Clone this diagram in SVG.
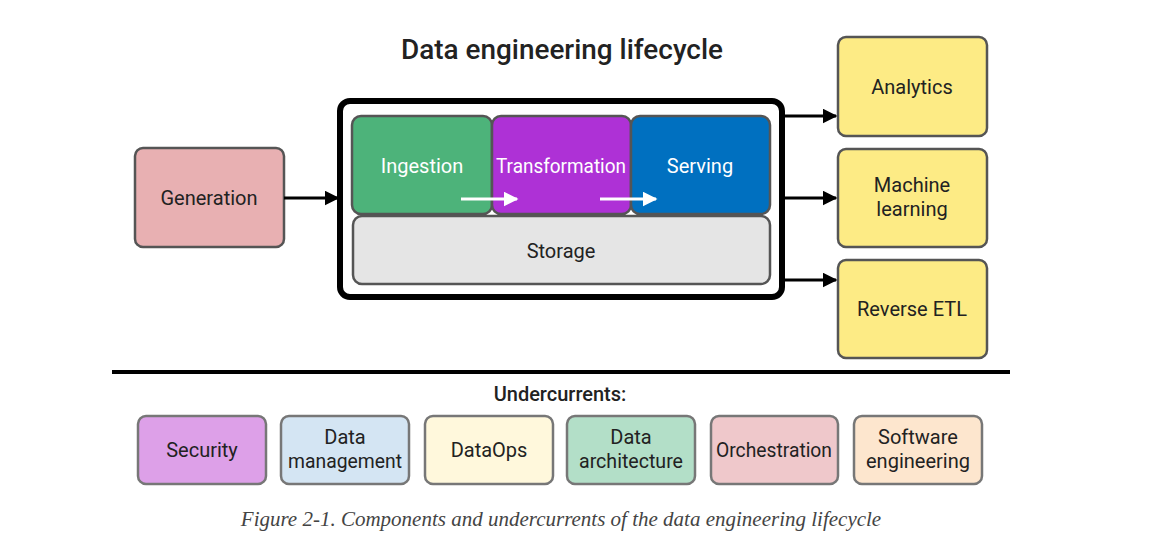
<svg xmlns="http://www.w3.org/2000/svg" width="1158" height="553" viewBox="0 0 1158 553">
<defs>
<style>
text{font-family:"Roboto","Liberation Sans",sans-serif;text-anchor:middle;font-size:20px;fill:#222}
.w{fill:#fff}
.n{stroke:#555;stroke-width:2.5}
.u{stroke:#777;stroke-width:2.5}
.c{stroke:#000;stroke-width:3;fill:none}
</style>
<marker id="ah" viewBox="0 0 10 10" refX="9" refY="5" markerWidth="5" markerHeight="5" orient="auto"><path d="M0,0L10,5L0,10z" fill="#000"/></marker>
<marker id="wh" viewBox="0 0 10 10" refX="9" refY="5" markerWidth="5" markerHeight="5" orient="auto"><path d="M0,0L10,5L0,10z" fill="#fff"/></marker>
</defs>
<rect width="1158" height="553" fill="#fff"/>
<text x="562" y="59" style="font-size:27px;font-weight:500" textLength="322" lengthAdjust="spacingAndGlyphs">Data engineering lifecycle</text>
<g id="lifecycle"><rect x="340" y="101" width="442" height="196" rx="10" fill="#fff" stroke="#000" stroke-width="6"/></g>
<g id="ingestion"><rect class="n" x="352" y="116" width="140" height="98" rx="9" fill="#4DB37A"/><text class="w" x="422" y="173">Ingestion</text></g>
<g id="transformation"><rect class="n" x="492" y="116" width="139" height="98" rx="9" fill="#AE31D6"/><text class="w" x="561" y="173" textLength="130" lengthAdjust="spacingAndGlyphs">Transformation</text></g>
<g id="serving"><rect class="n" x="631" y="116" width="139" height="98" rx="9" fill="#0070C0"/><text class="w" x="700" y="173">Serving</text></g>
<g id="storage"><rect class="n" x="353" y="216" width="417" height="68" rx="9" fill="#E5E5E5"/><text x="561" y="258">Storage</text></g>
<g id="generation"><rect class="n" x="135" y="148" width="149" height="99" rx="8" fill="#E8B0B2"/><text x="209" y="205">Generation</text></g>
<g id="analytics"><rect class="n" x="838" y="37" width="149" height="99" rx="8" fill="#FDEB85"/><text x="912" y="94">Analytics</text></g>
<g id="ml"><rect class="n" x="838" y="149" width="149" height="98" rx="8" fill="#FDEB85"/><text x="912" y="192">Machine</text><text x="912" y="216">learning</text></g>
<g id="retl"><rect class="n" x="838" y="260" width="149" height="98" rx="8" fill="#FDEB85"/><text x="912" y="316">Reverse ETL</text></g>
<g id="connectors">
<line class="c" x1="284" y1="198" x2="338" y2="198" marker-end="url(#ah)"/>
<line class="c" x1="782" y1="116" x2="836" y2="116" marker-end="url(#ah)"/>
<line class="c" x1="782" y1="198" x2="836" y2="198" marker-end="url(#ah)"/>
<line class="c" x1="782" y1="280" x2="836" y2="280" marker-end="url(#ah)"/>
<line x1="461" y1="199" x2="517" y2="199" stroke="#fff" stroke-width="3" marker-end="url(#wh)"/>
<line x1="600" y1="199" x2="656" y2="199" stroke="#fff" stroke-width="3" marker-end="url(#wh)"/>
</g>
<line x1="112" y1="372" x2="1010" y2="372" stroke="#000" stroke-width="4"/>
<text x="560" y="401" style="font-weight:500">Undercurrents:</text>
<g id="security"><rect class="u" x="138" y="416" width="128" height="68" rx="8" fill="#DDA0E8"/><text x="202" y="457">Security</text></g>
<g id="datamgmt"><rect class="u" x="281" y="416" width="128" height="68" rx="8" fill="#D4E5F3"/><text x="345" y="444">Data</text><text x="345" y="468" textLength="114" lengthAdjust="spacingAndGlyphs">management</text></g>
<g id="dataops"><rect class="u" x="425" y="416" width="128" height="68" rx="8" fill="#FFF8DC"/><text x="489" y="457">DataOps</text></g>
<g id="dataarch"><rect class="u" x="567" y="416" width="128" height="68" rx="8" fill="#B3DFC8"/><text x="631" y="444">Data</text><text x="631" y="468" textLength="104" lengthAdjust="spacingAndGlyphs">architecture</text></g>
<g id="orch"><rect class="u" x="711" y="416" width="127" height="68" rx="8" fill="#EFC8CB"/><text x="774" y="457" textLength="116" lengthAdjust="spacingAndGlyphs">Orchestration</text></g>
<g id="softeng"><rect class="u" x="854" y="416" width="128" height="68" rx="8" fill="#FDE6CE"/><text x="918" y="444">Software</text><text x="918" y="468" textLength="104" lengthAdjust="spacingAndGlyphs">engineering</text></g>
<text x="561" y="526" style="font-family:'Liberation Serif',serif;font-style:italic;font-size:21px;fill:#444">Figure 2-1. Components and undercurrents of the data engineering lifecycle</text>
</svg>
